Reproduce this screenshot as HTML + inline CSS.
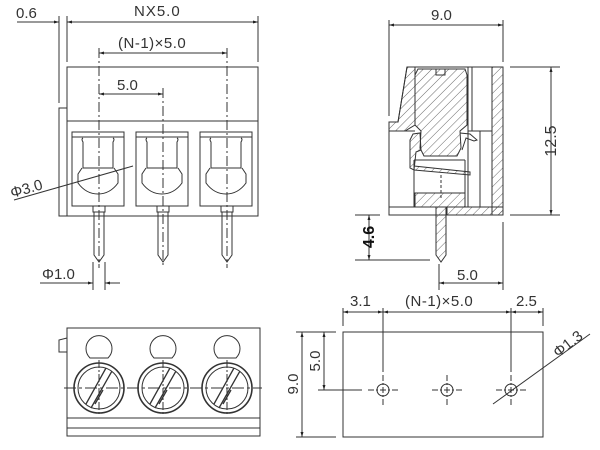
<!DOCTYPE html>
<html><head><style>
html,body{margin:0;padding:0;background:#fff;}
svg{display:block;}
text{font-family:"Liberation Sans",sans-serif;fill:#333;}
</style></head><body>
<svg width="600" height="450" viewBox="0 0 600 450" xmlns="http://www.w3.org/2000/svg">
<defs>
<pattern id="h" width="6" height="6" patternUnits="userSpaceOnUse" patternTransform="rotate(45)">
<line x1="0" y1="0" x2="0" y2="6" stroke="#444" stroke-width="0.8"/>
</pattern>
<marker id="a" viewBox="0 0 10 10" refX="10" refY="5" markerWidth="8" markerHeight="5" orient="auto-start-reverse">
<path d="M0,2 L10,5 L0,8 z" fill="#222"/>
</marker>
</defs>
<g stroke="#333" stroke-width="1" fill="none">
<line x1="59" y1="16" x2="59" y2="103"/>
<line x1="67" y1="16" x2="67" y2="62"/>
<line x1="258" y1="16" x2="258" y2="62"/>
<line x1="17" y1="22" x2="59" y2="22" marker-end="url(#a)"/>
<line x1="67" y1="22" x2="258" y2="22" marker-start="url(#a)" marker-end="url(#a)"/>
<line x1="99" y1="53" x2="227" y2="53" marker-start="url(#a)" marker-end="url(#a)"/>
<line x1="99" y1="94" x2="163" y2="94" marker-start="url(#a)" marker-end="url(#a)"/>
<rect x="67" y="67" width="191" height="149"/>
<line x1="67" y1="121" x2="258" y2="121"/>
<polyline points="67,108 59,108 59,216 67,216"/>
<g id="cav">
<rect x="72" y="132" width="52" height="74"/>
<line x1="72" y1="137" x2="124" y2="137"/>
<path d="M83,138 Q81,139 83,142 L83,168 L113,168 L113,142 Q115,139 113,138"/>
<path d="M82,168 L78,174 L78,183 Q86,194 98,194 Q110,194 118,183 L118,174 L114,168"/>
<rect x="93" y="206" width="12" height="6"/>
<path d="M94,212 L94,255 L99,262 L104,255 L104,212"/>
</g>
<use href="#cav" x="64"/>
<use href="#cav" x="128"/>
<g stroke-dasharray="10,3,2,3">
<line x1="99" y1="48" x2="99" y2="268"/>
<line x1="163" y1="88" x2="163" y2="268"/>
<line x1="227" y1="48" x2="227" y2="268"/>
</g>
<line x1="14" y1="200" x2="133" y2="166"/>
<line x1="93" y1="262" x2="93" y2="290"/>
<line x1="105" y1="262" x2="105" y2="290"/>
<line x1="40" y1="283" x2="93" y2="283" marker-end="url(#a)"/>
<line x1="120" y1="283" x2="105" y2="283" marker-end="url(#a)"/>

<line x1="389" y1="20" x2="389" y2="116"/>
<line x1="503" y1="20" x2="503" y2="62"/>
<line x1="389" y1="25" x2="503" y2="25" marker-start="url(#a)" marker-end="url(#a)"/>
<line x1="510" y1="67" x2="560" y2="67"/>
<line x1="510" y1="215" x2="560" y2="215"/>
<line x1="551" y1="67" x2="551" y2="215" marker-start="url(#a)" marker-end="url(#a)"/>
<line x1="355" y1="215" x2="380" y2="215"/>
<line x1="355" y1="260" x2="430" y2="260"/>
<line x1="369" y1="215" x2="369" y2="260" marker-start="url(#a)" marker-end="url(#a)"/>
<line x1="439" y1="264" x2="439" y2="290"/>
<line x1="503" y1="222" x2="503" y2="290"/>
<line x1="439" y1="283" x2="503" y2="283" marker-start="url(#a)" marker-end="url(#a)"/>
<polygon points="407,67 503,67 503,215 389,215 389,122 398,122" />
<polygon points="407,67 415,67 415,125 405,131 389,131 389,122 398,122" fill="url(#h)"/>
<rect x="492" y="67" width="11" height="148" fill="url(#h)"/>
<line x1="468" y1="67" x2="468" y2="207"/>
<line x1="472" y1="67" x2="472" y2="131"/>
<line x1="480" y1="131" x2="480" y2="207"/>
<line x1="389" y1="131" x2="415" y2="131"/>
<line x1="468" y1="131" x2="492" y2="131"/>
<path d="M418,69 L465,69 L467,75 L467,125 L460,131 L461,148 L457,156 L424,156 L420,148 L421,131 L415,125 L415,75 z" fill="url(#h)"/>
<rect x="436" y="69" width="9" height="6"/>
<path d="M410,140 L413,134 L420,133 L421,150 L416,152 L414,170 L410,168 z" fill="url(#h)"/>
<path d="M414,166 L470,172 L470,175 L414,170" fill="url(#h)"/>
<path d="M460,133 L470,134 L477,140 L474,141 L466,138 L462,150"/>
<line x1="414" y1="160" x2="414" y2="207"/>
<line x1="465" y1="160" x2="465" y2="207"/>
<line x1="414" y1="160" x2="465" y2="160"/>
<rect x="415" y="193" width="50" height="14" fill="url(#h)"/>
<rect x="447" y="207" width="56" height="8" fill="url(#h)"/>
<line x1="389" y1="207" x2="503" y2="207"/>
<path d="M436,207 L436,255 L441,262 L446,255 L446,207" fill="url(#h)"/>
<line x1="441" y1="175" x2="441" y2="200" stroke-dasharray="3,2"/>

<rect x="67" y="328" width="193" height="108"/>
<line x1="67" y1="418" x2="260" y2="418"/>
<line x1="67" y1="428" x2="260" y2="428"/>
<polyline points="67,338 59,340 59,352 67,352"/>
<g id="top">
<path d="M90,358 A13,13 0 1 1 108,358 z"/>
<circle cx="99" cy="388" r="25" stroke-width="1.6"/>
<circle cx="99" cy="388" r="21"/>
<path d="M86,404 L106,368 M91,408 L112,371 M95,404 L103,390" stroke-width="1.3"/>
<line x1="99" y1="360" x2="99" y2="415" stroke-dasharray="8,2,2,2"/>
</g>
<use href="#top" x="64"/>
<use href="#top" x="128"/>
<line x1="64" y1="388" x2="262" y2="388" stroke-dasharray="12,3,3,3"/>

<rect x="343" y="332" width="200" height="105"/>
<line x1="343" y1="308" x2="343" y2="326"/>
<line x1="383" y1="308" x2="383" y2="372"/>
<line x1="511" y1="308" x2="511" y2="372"/>
<line x1="543" y1="308" x2="543" y2="326"/>
<line x1="343" y1="312" x2="383" y2="312" marker-start="url(#a)" marker-end="url(#a)"/>
<line x1="383" y1="312" x2="511" y2="312" marker-start="url(#a)" marker-end="url(#a)"/>
<line x1="511" y1="312" x2="543" y2="312" marker-start="url(#a)" marker-end="url(#a)"/>
<line x1="296" y1="332" x2="336" y2="332"/>
<line x1="296" y1="437" x2="336" y2="437"/>
<line x1="318" y1="390" x2="362" y2="390"/>
<line x1="302" y1="332" x2="302" y2="437" marker-start="url(#a)" marker-end="url(#a)"/>
<line x1="324" y1="332" x2="324" y2="390" marker-start="url(#a)" marker-end="url(#a)"/>
<g id="hole">
<circle cx="383" cy="390" r="6"/>
<line x1="368" y1="390" x2="398" y2="390" stroke-dasharray="6,2,2,2"/>
<line x1="383" y1="375" x2="383" y2="405" stroke-dasharray="6,2,2,2"/>
</g>
<use href="#hole" x="64"/>
<use href="#hole" x="128"/>
<line x1="493" y1="404" x2="590" y2="334"/>
</g>
<g font-size="15">
<text x="16" y="18">0.6</text>
<text x="134" y="16" letter-spacing="1">NX5.0</text>
<text x="118" y="48" letter-spacing="0.5">(N-1)×5.0</text>
<text x="117" y="90">5.0</text>
<text x="12" y="198" transform="rotate(-16 12 198)">Φ3.0</text>
<text x="42" y="279">Φ1.0</text>
<text x="431" y="20">9.0</text>
<text x="556" y="141" transform="rotate(-90 556 141)" text-anchor="middle" font-size="16">12.5</text>
<text x="374" y="237" transform="rotate(-90 374 237)" text-anchor="middle" font-weight="bold" font-size="16" style="fill:#111">4.6</text>
<text x="457" y="280">5.0</text>
<text x="350" y="306">3.1</text>
<text x="405" y="306" letter-spacing="0.5">(N-1)×5.0</text>
<text x="516" y="306">2.5</text>
<text x="298" y="384" transform="rotate(-90 298 384)" text-anchor="middle">9.0</text>
<text x="320" y="361" transform="rotate(-90 320 361)" text-anchor="middle">5.0</text>
<text x="558" y="358" transform="rotate(-38 558 358)">Φ1.3</text>
</g>
</svg>
</body></html>
